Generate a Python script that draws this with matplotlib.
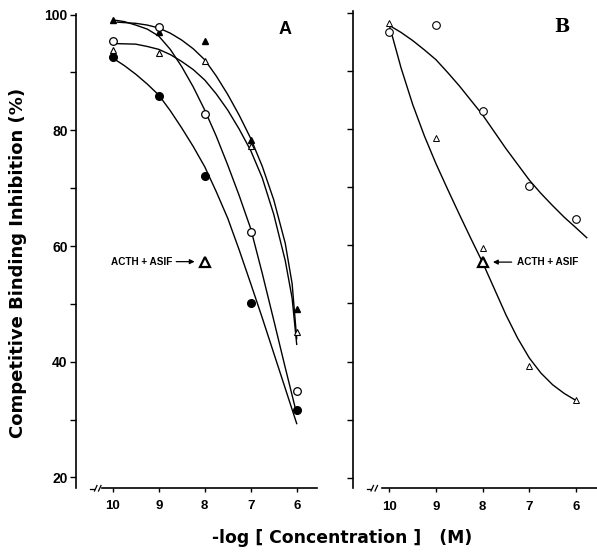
import matplotlib
matplotlib.use("Agg")
import matplotlib.pyplot as plt
from matplotlib.lines import Line2D

plt.rcParams['font.family'] = ['Liberation Sans', 'DejaVu Sans']

# ---------------- data ----------------
conc = [10, 9, 8, 7, 6]
xticks = [10, 9, 8, 7, 6]
yticks_major = [20, 40, 60, 80, 100]
yticks_minor = [30, 50, 70, 90]

# Panel A points
A_tri_filled = [99.1, 97.0, 95.5, 78.4, 49.1]
A_circ_open = [95.4, 97.9, 82.8, 62.5, 34.9]
A_tri_open = [93.9, 93.3, 92.0, 77.3, 45.2]
A_circ_filled = [92.6, 86.0, 72.1, 50.2, 31.6]
A_acth_asif = (8, 57.3)

# Panel A fitted curves
A_c1_x = [9.9, 9.5, 9.25, 9.0, 8.75, 8.5, 8.25, 8.0, 7.75, 7.5, 7.25, 7.0, 6.75, 6.5, 6.25, 6.1, 6.0]
A_c1_y = [98.7, 98.5, 98.2, 97.7, 96.8, 95.6, 94.1, 92.2, 89.4, 86.2, 82.6, 78.6, 73.8, 68.0, 60.5, 53.5, 44.0]
A_c3_x = [9.95, 9.5, 9.25, 9.0, 8.75, 8.5, 8.25, 8.0, 7.75, 7.5, 7.25, 7.0, 6.75, 6.5, 6.25, 6.1, 6.0]
A_c3_y = [95.0, 94.9, 94.5, 94.0, 93.1, 91.9, 90.5, 88.7, 86.3, 83.5, 80.2, 76.5, 71.8, 65.5, 57.5, 51.0, 43.0]
A_c2_x = [10.0, 9.75, 9.5, 9.25, 9.0, 8.75, 8.5, 8.25, 8.0, 7.75, 7.5, 7.25, 7.0, 6.75, 6.5, 6.25, 6.0]
A_c2_y = [99.1, 98.8, 98.2, 97.5, 96.3, 94.0, 91.0, 87.5, 83.5, 79.0, 74.0, 68.7, 63.0, 55.3, 47.2, 39.0, 31.0]
A_c4_x = [10.0, 9.75, 9.5, 9.25, 9.0, 8.75, 8.5, 8.25, 8.0, 7.75, 7.5, 7.25, 7.0, 6.75, 6.5, 6.25, 6.0]
A_c4_y = [92.5, 91.2, 89.7, 88.0, 86.1, 83.4, 80.4, 77.2, 73.7, 69.4, 64.8, 59.3, 53.5, 47.6, 41.5, 35.4, 29.3]

# Panel B points
B_circ_open = [96.6, 97.9, 83.1, 70.2, 64.5]
B_tri_open = [98.3, 78.4, 59.5, 39.2, 33.3]
B_acth_asif = (8, 57.1)

# Panel B fitted curves
B_up_x = [10.0, 9.75, 9.5, 9.25, 9.0, 8.75, 8.5, 8.25, 8.0, 7.75, 7.5, 7.25, 7.0, 6.75, 6.5, 6.25, 6.0, 5.77]
B_up_y = [97.8, 96.6, 95.2, 93.6, 91.9, 89.7, 87.4, 84.9, 82.4, 79.5, 76.6, 73.9, 71.2, 68.9, 66.8, 64.8, 63.0, 61.3]
B_lo_x = [10.0, 9.75, 9.5, 9.25, 9.0, 8.75, 8.5, 8.25, 8.0, 7.75, 7.5, 7.25, 7.0, 6.75, 6.5, 6.25, 6.0]
B_lo_y = [97.8, 90.5, 84.2, 78.8, 74.0, 69.6, 65.3, 61.1, 57.0, 52.5, 48.0, 44.0, 40.6, 38.0, 36.0, 34.5, 33.3]

# ---------------- figure ----------------
W, H = 597, 560
fig = plt.figure(figsize=(W / 100, H / 100), dpi=100)

axA = fig.add_axes([76 / W, (H - 487.8) / H, (317.4 - 76) / W, (487.8 - 13.5) / H])
axB = fig.add_axes([353 / W, (H - 488.3) / H, (597 - 353) / W, (488.3 - 11.5) / H])

lw_curve = 1.0
ms_c = 5.5
ms_t = 5.0

for ax, xl, xstart in ((axA, (10.8, 5.55), 10.23), (axB, (10.78, 5.55), 10.16)):
    ax.set_xlim(*xl)
    ax.set_ylim(18.2, 100.2)
    ax.spines['top'].set_visible(False)
    ax.spines['right'].set_visible(False)
    ax.spines['left'].set_linewidth(1.2)
    ax.spines['bottom'].set_linewidth(1.2)
    ax.spines['bottom'].set_bounds(xstart, xl[1])
    ax.set_xticks(xticks)
    ax.set_xticklabels([str(t) for t in xticks], fontsize=9.5, fontweight='bold')
    ax.set_yticks(yticks_major)
    ax.set_yticks(yticks_minor, minor=True)
    ax.tick_params(axis='x', direction='out', length=3, width=1.0, pad=6)
    ax.tick_params(axis='y', which='both', direction='out', length=4, width=1.0, pad=2)
    ax.set_facecolor('none')

axA.set_yticklabels([str(t) for t in yticks_major], fontsize=10, fontweight='bold')
axB.set_yticklabels([])

# ---- Panel A ----
for cx, cy in ((A_c1_x, A_c1_y), (A_c2_x, A_c2_y), (A_c3_x, A_c3_y), (A_c4_x, A_c4_y)):
    axA.plot(cx, cy, color='black', lw=lw_curve, zorder=2, solid_joinstyle='round')

axA.plot(conc, A_tri_filled, linestyle='none', marker='^', ms=ms_t, mfc='black', mec='black', zorder=3)
axA.plot(conc, A_circ_open, linestyle='none', marker='o', ms=ms_c, mfc='white', mec='black', mew=0.9, zorder=3)
axA.plot(conc, A_tri_open, linestyle='none', marker='^', ms=ms_t, mfc='white', mec='black', mew=0.8, zorder=3)
axA.plot(conc, A_circ_filled, linestyle='none', marker='o', ms=ms_c, mfc='black', mec='black', zorder=3)

axA.plot([A_acth_asif[0]], [A_acth_asif[1]], linestyle='none', marker='^', ms=6.5,
         mfc='white', mec='black', mew=1.6, zorder=3)
axA.annotate('', xy=(A_acth_asif[0] + 0.22, A_acth_asif[1]), xytext=(A_acth_asif[0] + 0.62, A_acth_asif[1]),
             arrowprops=dict(arrowstyle='-|>', color='black', lw=0.9, mutation_scale=7, shrinkA=0, shrinkB=0))
axA.text(A_acth_asif[0] + 0.7, A_acth_asif[1], 'ACTH + ASIF', ha='right', va='center',
         fontsize=7.2, fontweight='bold')

# ---- Panel B ----
axB.plot(B_up_x, B_up_y, color='black', lw=lw_curve, zorder=2, solid_joinstyle='round')
axB.plot(B_lo_x, B_lo_y, color='black', lw=lw_curve, zorder=2, solid_joinstyle='round')
axB.plot(conc, B_circ_open, linestyle='none', marker='o', ms=5.5, mfc='white', mec='black', mew=0.8, zorder=3)
axB.plot(conc, B_tri_open, linestyle='none', marker='^', ms=4.5, mfc='white', mec='black', mew=0.7, zorder=3)
axB.plot([B_acth_asif[0]], [B_acth_asif[1]], linestyle='none', marker='^', ms=6.5,
         mfc='white', mec='black', mew=1.6, zorder=3)
axB.annotate('', xy=(B_acth_asif[0] - 0.22, B_acth_asif[1]), xytext=(B_acth_asif[0] - 0.62, B_acth_asif[1]),
             arrowprops=dict(arrowstyle='-|>', color='black', lw=0.9, mutation_scale=7, shrinkA=0, shrinkB=0))
axB.text(B_acth_asif[0] - 0.74, B_acth_asif[1], 'ACTH + ASIF', ha='left', va='center',
         fontsize=7.2, fontweight='bold')

# ---- axis break marks (decoration, figure pixels) ----
def px(x, y):
    return x / W, 1 - y / H

def seg(p0, p1, lw=1.0):
    (x0, y0), (x1, y1) = px(*p0), px(*p1)
    fig.add_artist(Line2D([x0, x1], [y0, y1], transform=fig.transFigure, color='black', lw=lw))

for base in (90, 366.5):
    seg((base, 488.5), (base + 4, 488.5), 0.9)
    seg((base + 4.5, 491), (base + 7, 485.5), 0.9)
    seg((base + 8.5, 491), (base + 11, 485.5), 0.9)

# ---- labels ----
fig.text(*px(285, 30), 'A', ha='center', va='center', fontsize=13, fontweight='bold')
fig.text(*px(561.7, 27), 'B', ha='center', va='center', fontsize=13, fontweight='bold',
         family=['DejaVu Serif'])
fig.text(*px(18, 263), 'Competitive Binding Inhibition (%)', rotation=90, ha='center', va='center',
         fontsize=13, fontweight='bold', family=['DejaVu Sans'])
fig.text(*px(342.5, 538), '-log [ Concentration ]   (M)', ha='center', va='center',
         fontsize=12.4, fontweight='bold', family=['DejaVu Sans'])

fig.savefig('out.png', dpi=100, facecolor='white')
